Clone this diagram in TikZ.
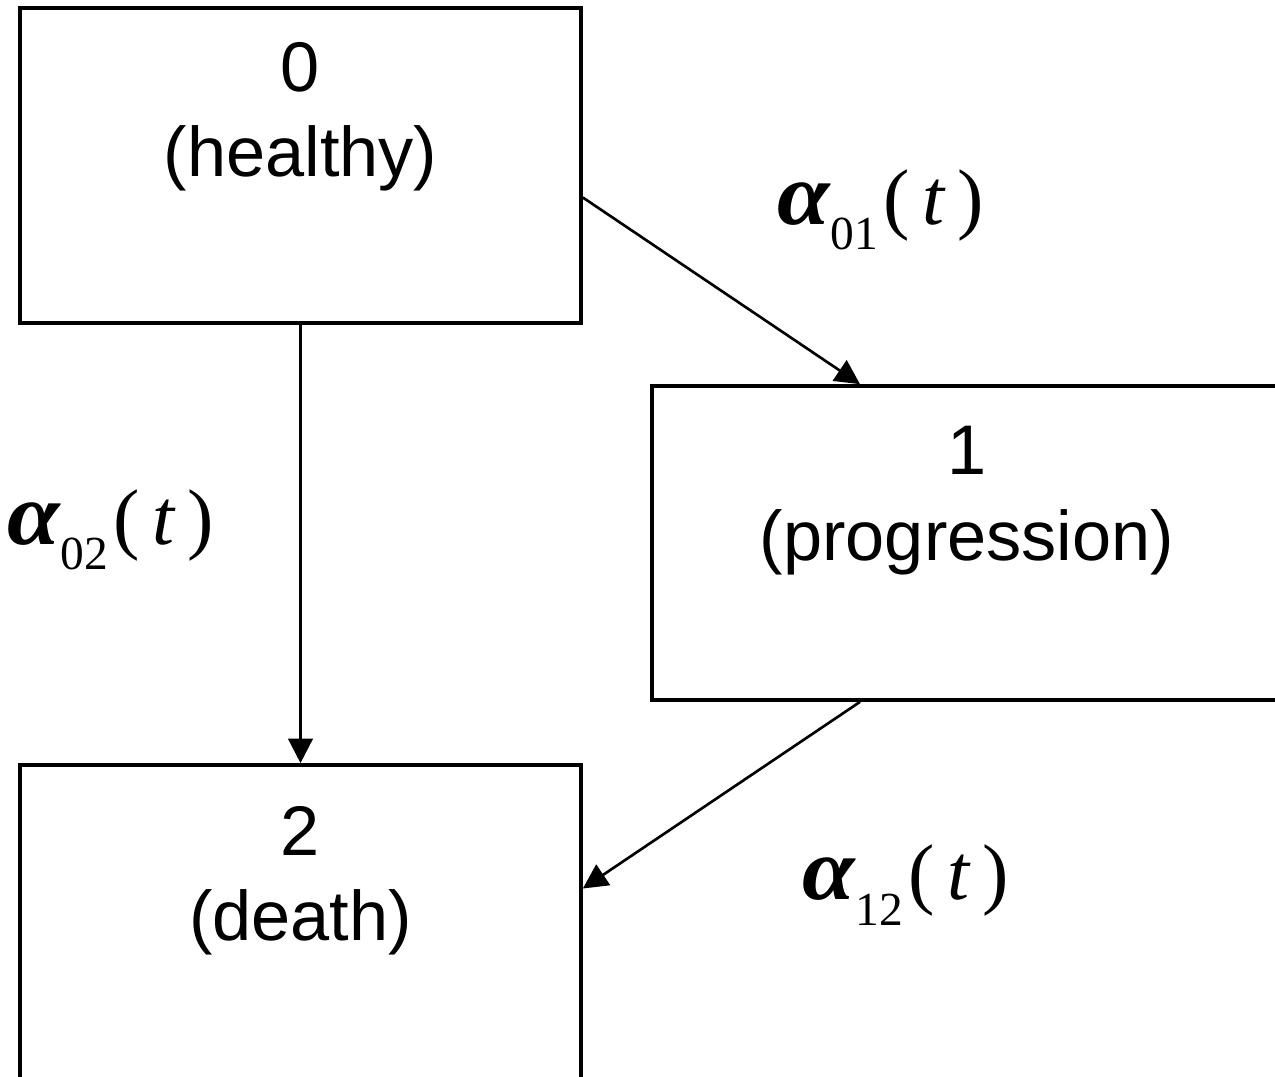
\documentclass[tikz,border=0pt]{standalone}
\usepackage{fontspec}
\setmainfont{Liberation Sans}
\newfontfamily\labfont{Liberation Serif}
\usepackage{tikz}
\usetikzlibrary{calc, positioning, arrows.meta}
\tikzstyle{statebox}=[draw, shape=rectangle, line width=2.1pt, minimum width=11.22cm, minimum height=6.3cm, inner sep=0pt]
\tikzstyle{statetxt}=[align=center, anchor=north, inner sep=0pt, font=\fontsize{40}{48.5}\selectfont]
\tikzstyle{ratelbl}=[inner sep=0pt, anchor=west, font=\labfont\fontsize{45}{50}\selectfont]
\tikzset{>={Triangle[length=14pt, width=14pt]}}
\newcommand{\hazard}[1]{\scalebox{1.2}[1.12]{\bfseries\itshape α}\raisebox{-0.32em}{\fontsize{27}{27}\selectfont #1}\kern3pt(\,{\itshape t}\,)}

\begin{document}
\begin{tikzpicture}
\useasboundingbox (0,0) rectangle (25.5,-21.52);
\clip (0,0) rectangle (25.5,-21.52);
% the three states
\node[statebox] (S0) at (6.01,-3.31) {};
\node[statebox, minimum width=12.6cm, minimum height=6.28cm] (S1) at (19.34,-10.86) {};
\node[statebox] (S2) at (6.01,-18.45) {};
\node[statetxt] (T0) at ([yshift=-0.72cm]S0.north) {0\\(healthy)};
\node[statetxt] (T1) at ([yshift=-0.84cm]S1.north) {1\\(progression)};
\node[statetxt] (T2) at ([yshift=-0.86cm]S2.north) {2\\(death)};
% the transitions
\draw[->, line width=1.5pt] ([yshift=-0.64cm]S0.east) -- ([xshift=-2.14cm]S1.north);
\draw[->, line width=1.5pt] (S0.south) -- (S2.north);
\draw[->, line width=1.5pt] ([xshift=-2.14cm]S1.south) -- ([yshift=0.68cm]S2.east);
% the intensities
\node[ratelbl] (A01) at (15.55,-4.2) {\hazard{01}};
\node[ratelbl] (A02) at (0.15,-10.6) {\hazard{02}};
\node[ratelbl] (A12) at (16.05,-17.7) {\hazard{12}};
\end{tikzpicture}
\end{document}
